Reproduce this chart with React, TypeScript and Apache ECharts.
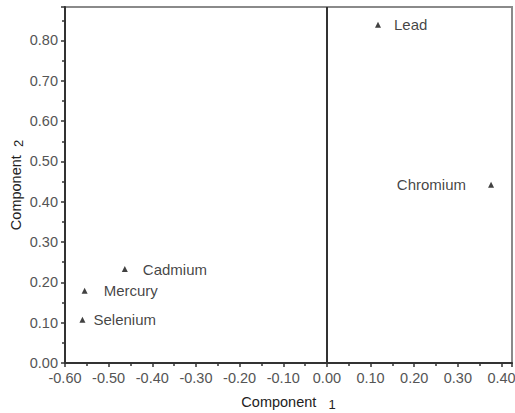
import React, { useEffect, useRef } from "react";
import * as echarts from "echarts";

const elements = ["Lead", "Chromium", "Cadmium", "Mercury", "Selenium"];
const component1 = [0.117, 0.376, -0.463, -0.555, -0.56];
const component2 = [0.839, 0.442, 0.233, 0.179, 0.107];
const labelSide = ["right", "left", "right", "right", "right"];
const labelGap = [13, 22, 15, 16, 8];

export default function App() {
  const ref = useRef<HTMLDivElement>(null);
  useEffect(() => {
    if (!ref.current) return;
    const chart = echarts.init(ref.current, undefined, { renderer: "svg" });
    const font = "'Liberation Sans', Arial, sans-serif";
    const data = elements.map((name, i) => ({
      name,
      value: [component1[i], component2[i]],
      label: { position: labelSide[i], distance: labelGap[i] },
    }));
    chart.setOption({
      animation: false,
      backgroundColor: "#ffffff",
      grid: {
        left: 65, right: 3, top: 7, bottom: 50, show: true,
        borderColor: "#8a8a8a", borderWidth: 2, backgroundColor: "transparent",
        containLabel: false, outerBoundsMode: "none",
      },
      xAxis: {
        type: "value",
        min: -0.6,
        max: 0.424,
        interval: 0.1,
        name: "Component   {sub|1}",
        nameLocation: "middle",
        nameGap: 29,
        nameMoveOverlap: false,
        nameTextStyle: { color: "#222", fontSize: 14.5, fontFamily: font, rich: { sub: { fontSize: 13, color: "#222", padding: [6, 0, 0, 0], fontFamily: font } } },
        axisLine: { show: true, onZero: false, lineStyle: { color: "#333", width: 2 } },
        axisTick: { show: true, length: 4, lineStyle: { color: "#333", width: 1.5 } },
        minorTick: { show: true, splitNumber: 2, length: 3, lineStyle: { color: "#333", width: 1.5 } },
        splitLine: { show: false },
        axisLabel: { color: "#555", fontSize: 14.5, fontFamily: font, margin: 7, formatter: (v: number) => v.toFixed(2), showMaxLabel: false },
      },
      yAxis: {
        type: "value",
        min: 0,
        max: 0.883,
        interval: 0.1,
        name: "Component  {sub|2}",
        nameLocation: "middle",
        nameGap: 40,
        nameMoveOverlap: false,
        nameTextStyle: { color: "#222", fontSize: 14.5, fontFamily: font, rich: { sub: { fontSize: 13, color: "#222", padding: [6, 0, 0, 0], fontFamily: font } } },
        axisLine: { show: true, onZero: false, lineStyle: { color: "#333", width: 2 } },
        axisTick: { show: true, length: 4, lineStyle: { color: "#333", width: 1.5 } },
        minorTick: { show: true, splitNumber: 2, length: 3, lineStyle: { color: "#333", width: 1.5 } },
        splitLine: { show: false },
        axisLabel: { color: "#555", fontSize: 14.5, fontFamily: font, margin: 7, formatter: (v: number) => v.toFixed(2), showMaxLabel: false },
      },
      series: [
        {
          type: "scatter",
          symbol: "triangle",
          symbolSize: 6,
          itemStyle: { color: "#111" },
          label: { show: true, formatter: "{b}", color: "#111", fontSize: 15, fontFamily: font },
          data,
          markLine: {
            silent: true,
            symbol: "none",
            label: { show: false },
            lineStyle: { color: "#333", width: 2, type: "solid" },
            data: [{ xAxis: 0 }],
          },
        },
      ],
    });
    return () => chart.dispose();
  }, []);
  return <div ref={ref} style={{ width: 515, height: 413, position: "absolute", left: 0, top: 0 }} />;
}
